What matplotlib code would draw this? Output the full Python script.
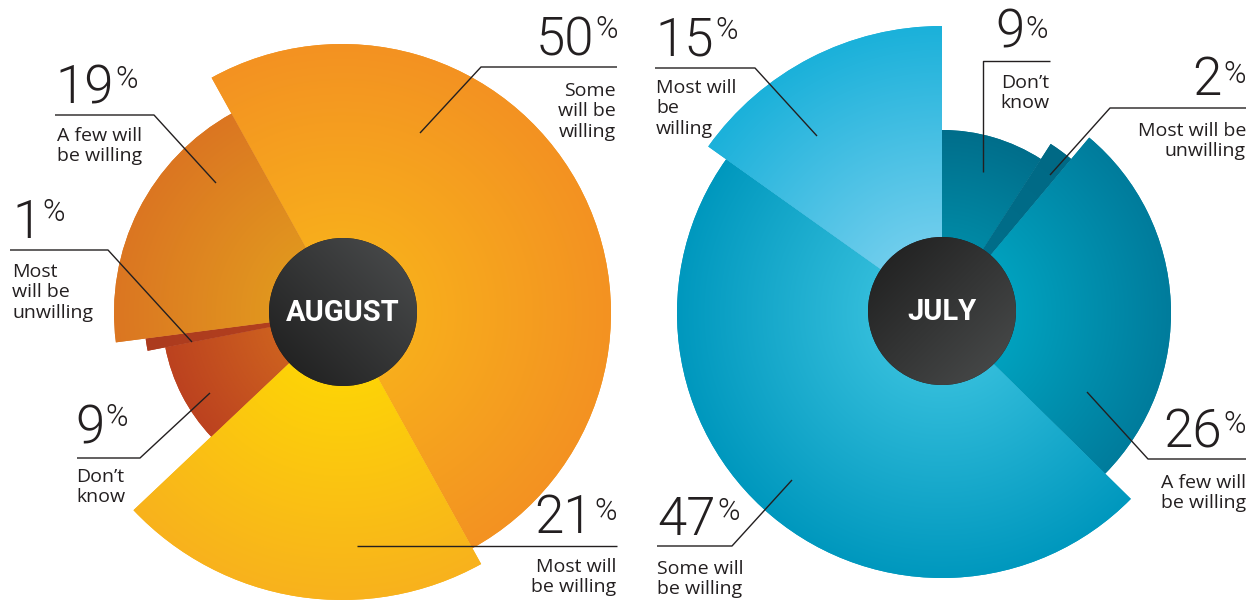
import numpy as np
import matplotlib.pyplot as plt
from matplotlib.patches import Circle
from matplotlib.colors import to_rgb

# Survey shares (%) for each month, in drawing order (clockwise)
aug_values = [50, 21, 9, 1, 19]
aug_labels = ['Some\nwill be\nwilling', 'Most will\nbe willing', 'Don\u2019t\nknow',
              'Most\nwill be\nunwilling', 'A few will\nbe willing']
jul_values = [9, 2, 26, 47, 15]
jul_labels = ['Don\u2019t\nknow', 'Most will be\nunwilling', 'A few will\nbe willing',
              'Some will\nbe willing', 'Most will\nbe\nwilling']

# Look of the slices (radius in px, inner / outer gradient colours)
aug_radii = [269, 287, 180, 198, 228]
aug_inner = ['#FAB81A', '#FFDE00', '#D8741F', '#B5421E', '#E4A51D']
aug_outer = ['#F39222', '#F8B21D', '#BC421F', '#AC3B1F', '#DB7622']
jul_radii = [183, 201, 229, 265, 287]
jul_inner = ['#009CB7', '#00718D', '#00B2CE', '#45CAE5', '#8CD7F3']
jul_outer = ['#006E8B', '#006985', '#007C9C', '#0098BE', '#1BB1DA']

# Label placement in pixel coords (y measured from top).
# 'num' = anchor of the number (x, baseline, side), 'pct' = top of the % sign
aug_layout = [
    dict(num=(618, 55, 'right'), pct=15, line=[(617, 67), (481, 67), (420, 133)], txt=(616, 82, 'right')),
    dict(num=(617, 533, 'right'), pct=497, line=[(617, 546), (357, 546)], txt=(616, 558, 'right')),
    dict(num=(75, 443, 'left'), pct=403, line=[(77, 458), (140, 458), (210, 393)], txt=(76, 468, 'left')),
    dict(num=(12, 238, 'left'), pct=198, line=[(10, 250), (108, 250), (192, 342)], txt=(12, 263, 'left')),
    dict(num=(55, 103, 'left'), pct=65, line=[(55, 115), (154, 115), (216, 183)], txt=(57, 127, 'left')),
]
jul_layout = [
    dict(num=(995, 47, 'left'), pct=15, line=[(1050, 61), (983, 61), (983, 172)], txt=(1049, 74, 'right')),
    dict(num=(1246, 95, 'right'), pct=60, line=[(1246, 108), (1110, 108), (1050, 175)], txt=(1246, 122, 'right')),
    dict(num=(1246, 448, 'right'), pct=410, line=[(1246, 459), (1148, 459), (1087, 392)], txt=(1246, 474, 'right')),
    dict(num=(657, 535, 'left'), pct=497, line=[(657, 546), (732, 546), (792, 480)], txt=(657, 560, 'left')),
    dict(num=(655, 55, 'left'), pct=16, line=[(655, 68), (755, 68), (817, 136)], txt=(656, 79, 'left')),
]

W, H = 1246, 605
INK = '#231F20'
NUM_FONT = 'Roboto'
TXT_FONT = 'Open Sans'
HUB_FONT = 'Roboto'

fig = plt.figure(figsize=(W / 100, H / 100), dpi=100)
ax = fig.add_axes([0, 0, 1, 1])


def Y(y):
    return H - y


def draw_pie(values, cx, cy, start, radii, inner, outer):
    wedges, _ = ax.pie(values, startangle=start, counterclock=False,
                       center=(cx, Y(cy)), radius=1,
                       wedgeprops=dict(linewidth=0))
    g = np.linspace(-1, 1, 300)
    gx, gy = np.meshgrid(g, g)
    d = np.clip(np.hypot(gx, gy), 0, 1)[..., None]
    for w, r, ci, co in zip(wedges, radii, inner, outer):
        w.set_radius(r)
        w.set_facecolor(co)
        img = np.array(to_rgb(ci)) * (1 - d) + np.array(to_rgb(co)) * d
        im = ax.imshow(img, extent=(cx - r, cx + r, Y(cy) - r, Y(cy) + r),
                       origin='lower', interpolation='bilinear', zorder=2)
        im.set_clip_path(w)


def draw_hub(cx, cy, text, light, dark, light_top_right=True):
    r = 74
    circ = Circle((cx, Y(cy)), r, facecolor=dark, lw=0, zorder=3)
    ax.add_patch(circ)
    g = np.linspace(0, 1, 200)
    gx, gy = np.meshgrid(g, g)
    if light_top_right:
        t = (gx + gy) / 2
    else:
        t = (gx + (1 - gy)) / 2
    t = t[..., None]
    img = np.array(to_rgb(dark)) * (1 - t) + np.array(to_rgb(light)) * t
    im = ax.imshow(img, extent=(cx - r, cx + r, Y(cy) - r, Y(cy) + r),
                   origin='lower', interpolation='bilinear', zorder=3.1)
    im.set_clip_path(circ)
    ax.text(cx, Y(cy) - 1, text, color='white', fontsize=21, fontweight='bold',
            family=HUB_FONT, ha='center', va='center', zorder=4)


def draw_labels(values, labels, layout):
    for v, lab, lo in zip(values, labels, layout):
        nx, ny, side = lo['num']
        if side == 'left':
            num = ax.text(nx, Y(ny), str(v), fontsize=38, family=NUM_FONT,
                          fontweight=300, color=INK, ha='left', va='baseline', zorder=6)
            ax.annotate('%', xy=(1, Y(lo['pct'])), xycoords=(num, 'data'),
                        xytext=(1, 0), textcoords='offset points',
                        fontsize=22, family=NUM_FONT, fontweight=300, color=INK,
                        ha='left', va='top', zorder=6)
        else:
            pct = ax.text(nx, Y(lo['pct']), '%', fontsize=22, family=NUM_FONT,
                          fontweight=300, color=INK, ha='right', va='top', zorder=6)
            ax.annotate(str(v), xy=(0, Y(ny)), xycoords=(pct, 'data'),
                        xytext=(-1, 0), textcoords='offset points',
                        fontsize=38, family=NUM_FONT, fontweight=300, color=INK,
                        ha='right', va='baseline', zorder=6)
        xs, ys = zip(*lo['line'])
        ax.plot(xs, [Y(y) for y in ys], color=INK, lw=1.0, zorder=5,
                solid_capstyle='butt')
        tx, ty, tha = lo['txt']
        ax.text(tx, Y(ty), lab, fontsize=14, family=TXT_FONT, color=INK,
                ha=tha, va='top', linespacing=1.17, multialignment=tha, zorder=6)


draw_pie(aug_values, 342, 313, 119, aug_radii, aug_inner, aug_outer)
draw_pie(jul_values, 942, 313, 90, jul_radii, jul_inner, jul_outer)
draw_hub(343, 312, 'AUGUST', '#4C4E4F', '#1C1C1C', light_top_right=True)
draw_hub(942, 311, 'JULY', '#4B4D4D', '#1D1D1D', light_top_right=False)
draw_labels(aug_values, aug_labels, aug_layout)
draw_labels(jul_values, jul_labels, jul_layout)

ax.set_xlim(0, W)
ax.set_ylim(0, H)
ax.set_aspect('auto')
ax.axis('off')

fig.savefig('out.png', dpi=100, facecolor='white')
